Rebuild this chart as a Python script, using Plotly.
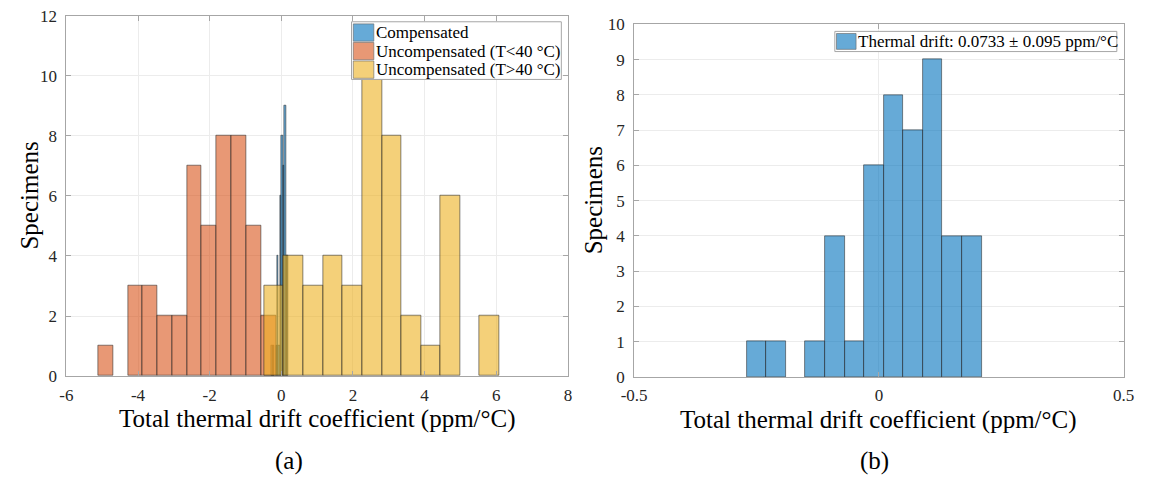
import numpy as np
import plotly.graph_objects as go

# ---------------- data ----------------
# (a) histograms: bin edges and counts
comp_edges = [-0.27, -0.23, -0.19, -0.15, -0.11, -0.07, -0.03, 0.01, 0.05, 0.09, 0.13, 0.17, 0.21]
comp_counts = [1, 1, 0, 1, 4, 1, 6, 8, 7, 9, 4, 4]

low_edges = [-5.10, -4.69, -4.28, -3.87, -3.45, -3.04, -2.63, -2.22, -1.81, -1.39, -0.98, -0.57, -0.15]
low_counts = [1, 0, 3, 3, 2, 2, 7, 5, 8, 8, 5, 2]

high_edges = [-0.47, 0.07, 0.62, 1.17, 1.71, 2.26, 2.81, 3.36, 3.90, 4.45, 5.00, 5.54, 6.09]
high_counts = [3, 4, 3, 4, 3, 10, 8, 2, 1, 6, 0, 2]

names_a = ["Compensated", "Uncompensated (T<40 °C)", "Uncompensated (T>40 °C)"]
name_b = "Thermal drift: 0.0733 ± 0.095 ppm/°C"

xticks_a = [-6, -4, -2, 0, 2, 4, 6, 8]
yticks_a = [0, 2, 4, 6, 8, 10, 12]
xticks_b = [-0.5, 0, 0.5]
yticks_b = [0, 1, 2, 3, 4, 5, 6, 7, 8, 9, 10]

xlabel = "Total thermal drift coefficient (ppm/°C)"
ylabel = "Specimens"
panel_labels = ["(a)", "(b)"]

# ---------------- styles ----------------
FONT = "Liberation Serif"
C_BLUE = "rgba(0,114,189,0.6)"
C_ORANGE = "rgba(217,83,25,0.6)"
C_YELLOW = "rgba(237,177,32,0.6)"
EDGE = "rgba(38,38,38,0.55)"
W, H = 1153, 486


def px(x):
    return x / W


def py(y):
    return 1 - y / H


def bars(edges, counts, color, name, xa, ya):
    e = np.asarray(edges, dtype=float)
    centers = (e[:-1] + e[1:]) / 2
    widths = np.diff(e)
    yv = [c if c > 0 else None for c in counts]
    return go.Bar(x=centers, y=yv, width=widths, name=name,
                  marker=dict(color=color, line=dict(color=EDGE, width=1)),
                  xaxis=xa, yaxis=ya, showlegend=False, hoverinfo="x+y")


fig = go.Figure()
fig.add_trace(bars(comp_edges, comp_counts, C_BLUE, names_a[0], "x", "y"))
fig.add_trace(bars(low_edges, low_counts, C_ORANGE, names_a[1], "x", "y"))
fig.add_trace(bars(high_edges, high_counts, C_YELLOW, names_a[2], "x", "y"))
fig.add_trace(bars(comp_edges, comp_counts, C_BLUE, name_b, "x2", "y2"))


def fmt(v):
    return "%g" % v


def axis(**kw):
    d = dict(showgrid=True, gridcolor="#ececec", gridwidth=1, zeroline=False,
             showline=True, linecolor="#a6a6a6", linewidth=1, mirror="ticks",
             ticks="inside", ticklen=5, tickcolor="#a6a6a6",
             tickfont=dict(family=FONT, size=17, color="#262626"))
    d.update(kw)
    return d


fig.update_layout(
    width=W, height=H,
    margin=dict(l=0, r=0, t=0, b=0),
    paper_bgcolor="white", plot_bgcolor="white",
    barmode="overlay", bargap=0, showlegend=False,
    font=dict(family=FONT, size=17, color="#262626"),
    xaxis=axis(domain=[px(54.5), px(566.7)], range=[-6, 8], anchor="y",
               tickvals=xticks_a, ticktext=[fmt(v) for v in xticks_a], ticklabelstandoff=4),
    yaxis=axis(domain=[py(382), py(7)], range=[0, 12], anchor="x",
               tickvals=yticks_a, ticktext=[fmt(v) for v in yticks_a], ticklabelstandoff=5),
    xaxis2=axis(domain=[px(634.3), px(1134.3)], range=[-0.5, 0.5], anchor="y2",
                tickvals=xticks_b, ticktext=[fmt(v) for v in xticks_b], ticklabelstandoff=3),
    yaxis2=axis(domain=[py(383), py(16)], range=[0, 10], anchor="x2",
                tickvals=yticks_b, ticktext=[fmt(v) for v in yticks_b], ticklabelstandoff=5),
)

ann = []
shapes = []
title_font = dict(family=FONT, size=25, color="#000")


def text(t, x, y, font, xanchor="center", angle=0):
    ann.append(dict(text=t, x=px(x), y=py(y), xref="paper", yref="paper",
                    xanchor=xanchor, yanchor="middle", showarrow=False,
                    textangle=angle, font=font))


text(xlabel, 310.6, 427, title_font)
text(xlabel, 884.3, 428, title_font)
text(ylabel, 17, 194.5, title_font, angle=-90)
text(ylabel, 593, 199.5, title_font, angle=-90)
text(panel_labels[0], 282, 470, title_font)
text(panel_labels[1], 880, 470, title_font)


def rect(x0, y0, x1, y1, fill, line, lw=1):
    shapes.append(dict(type="rect", xref="paper", yref="paper",
                       x0=px(x0), x1=px(x1), y0=py(y1), y1=py(y0),
                       fillcolor=fill, line=dict(color=line, width=lw), layer="above"))


leg_font = dict(family=FONT, size=17, color="#000")
# legend (a)
rect(345.7, 13.3, 560, 73.3, "white", "#a6a6a6")
for i, (nm, col) in enumerate(zip(names_a, [C_BLUE, C_ORANGE, C_YELLOW])):
    yc = 24.5 + i * 19.3
    rect(347.5, yc - 9, 368.5, yc + 9, col, "rgba(100,100,100,0.6)")
    text(nm, 368.5, yc, leg_font, xanchor="left")
# legend (b)
rect(839.3, 23.3, 1127.3, 44.3, "white", "#a6a6a6")
rect(841, 25.5, 861, 42, C_BLUE, "rgba(100,100,100,0.6)")
text(name_b, 860.5, 33.5, leg_font, xanchor="left")

fig.update_layout(annotations=ann, shapes=shapes)

fig.write_html("out.html")
